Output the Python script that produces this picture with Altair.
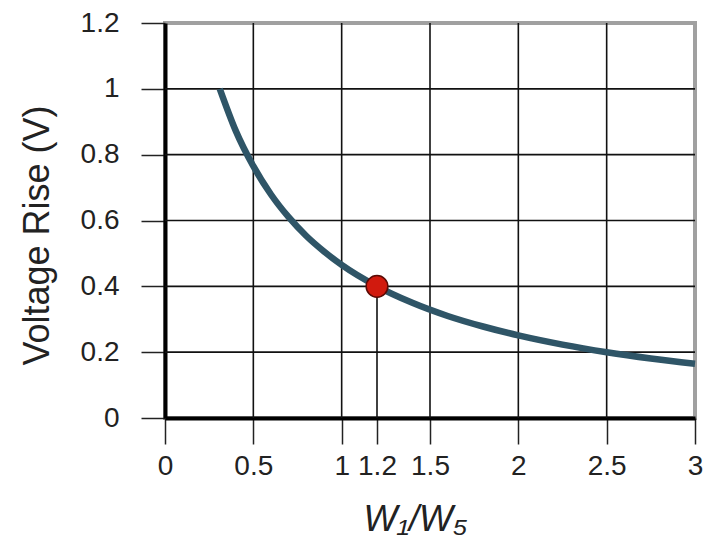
import altair as alt
import pandas as pd

# curve
curve_x = [0.31, 0.40, 0.50, 0.60, 0.70, 0.80, 0.90, 1.00, 1.20, 1.40, 1.60, 1.80, 2.00, 2.25, 2.50, 2.75, 3.00]
curve_y = [1.000, 0.873, 0.765, 0.679, 0.610, 0.553, 0.506, 0.465, 0.400, 0.350, 0.310, 0.278, 0.251, 0.223, 0.200, 0.181, 0.165]

point_x = [1.2]
point_y = [0.4]

x_ticks = [0, 0.5, 1, 1.2, 1.5, 2, 2.5, 3]
y_ticks = [0, 0.2, 0.4, 0.6, 0.8, 1.0, 1.2]
x_grid = [0.5, 1, 1.5, 2, 2.5]
y_grid = [0.2, 0.4, 0.6, 0.8, 1.0]

FONT = "Liberation Sans"

xs = alt.Scale(domain=[0, 3], nice=False, zero=False)
ys = alt.Scale(domain=[0, 1.2], nice=False, zero=False)

curve_df = pd.DataFrame({"x": curve_x, "y": curve_y})
pt_df = pd.DataFrame({"x": point_x, "y": point_y, "y0": [0] * len(point_x)})
xg_df = pd.DataFrame({"x": x_grid})
yg_df = pd.DataFrame({"y": y_grid})

xgrid = alt.Chart(xg_df).mark_rule(color="#111", strokeWidth=1.6).encode(
    x=alt.X("x:Q", scale=xs), y=alt.value(0), y2=alt.value(395)
)
ygrid = alt.Chart(yg_df).mark_rule(color="#111", strokeWidth=1.6).encode(
    y=alt.Y("y:Q", scale=ys), x=alt.value(0), x2=alt.value(530)
)
drop = alt.Chart(pt_df).mark_rule(color="#111", strokeWidth=1.6).encode(
    x=alt.X("x:Q", scale=xs), y=alt.Y("y:Q", scale=ys), y2="y0:Q"
)

line = alt.Chart(curve_df).mark_line(
    color="#2f5567", strokeWidth=6.5, interpolate="monotone", strokeCap="butt"
).encode(
    x=alt.X(
        "x:Q",
        scale=xs,
        axis=alt.Axis(
            values=x_ticks,
            format="~g",
            grid=False,
            title="W₁/W₅",
            titleFontStyle="italic",
            titleFontWeight="normal",
            titleFont=FONT,
            titleFontSize=36,
            titleColor="#222",
            titlePadding=22,
            titleX=250,
            labelFont=FONT,
            labelFontSize=28,
            labelColor="#222",
            labelPadding=8,
            labelFlush=False,
            tickSize=26,
            tickColor="#222",
            tickWidth=1.5,
            domainColor="#000",
            domainWidth=4,
        ),
    ),
    y=alt.Y(
        "y:Q",
        scale=ys,
        axis=alt.Axis(
            values=y_ticks,
            format="~g",
            grid=False,
            title="Voltage Rise (V)",
            titleFont=FONT,
            titleFontWeight="normal",
            titleFontSize=36,
            titleColor="#222",
            titlePadding=24,
            titleY=212,
            labelFont=FONT,
            labelFontSize=28,
            labelColor="#222",
            labelPadding=22,
            labelFlush=False,
            tickSize=24,
            tickColor="#222",
            tickWidth=1.5,
            domainColor="#000",
            domainWidth=4,
        ),
    ),
)

dot = alt.Chart(pt_df).mark_point(
    shape="circle", filled=True, size=470, fill="#d11a0e", stroke="#5a0a05", strokeWidth=1.5, opacity=1
).encode(x=alt.X("x:Q", scale=xs), y=alt.Y("y:Q", scale=ys))

chart = (
    alt.layer(xgrid, ygrid, drop, line, dot)
    .properties(
        width=530,
        height=395,
        autosize="none",
        padding={"left": 157, "top": 15, "right": 17, "bottom": 125},
        background="white",
    )
    .configure_view(stroke="#a0a0a0", strokeWidth=4)
)

chart.save("out.html", embed_options={"renderer": "svg", "actions": False})
